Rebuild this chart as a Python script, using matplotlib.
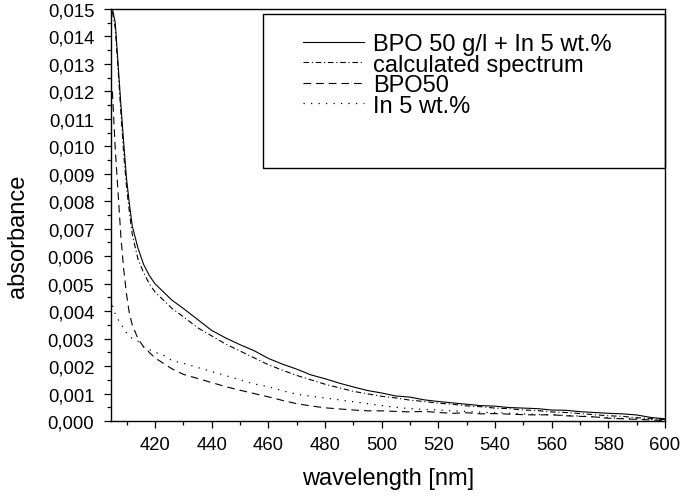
import numpy as np
import matplotlib
matplotlib.use("Agg")
import matplotlib.pyplot as plt
from matplotlib.ticker import MultipleLocator, FuncFormatter
from matplotlib.patches import Rectangle

# ================= data =================
wl = [405, 406, 407, 408, 409, 410, 411, 412, 414, 416, 418, 420, 423, 426,
      430, 435, 440, 445, 450, 455, 460, 465, 470, 475, 480, 485, 490, 495,
      500, 505, 510, 515, 520, 525, 530, 535, 540, 545, 550, 555, 560, 565,
      570, 575, 580, 585, 590, 595, 600]

mix = [0.0150, 0.0145, 0.0130, 0.0115, 0.0101, 0.0088, 0.0079, 0.0071,
       0.0063, 0.0057, 0.0053, 0.0050, 0.0047, 0.0044, 0.0041, 0.0037,
       0.0033, 0.00302, 0.00278, 0.00256, 0.00228, 0.00207, 0.00189,
       0.00168, 0.00154, 0.00138, 0.00124, 0.00111, 0.00102, 0.00091,
       0.00087, 0.00077, 0.00071, 0.00066, 0.00061, 0.00056, 0.00054,
       0.00049, 0.00047, 0.00045, 0.00040, 0.00039, 0.00034, 0.00031,
       0.00028, 0.00026, 0.00022, 0.00013, 0.00008]

calc = [0.0149, 0.0143, 0.0128, 0.0112, 0.0097, 0.0085, 0.0076, 0.0068,
        0.0059, 0.0054, 0.0050, 0.0047, 0.0044, 0.0041, 0.0038, 0.0034,
        0.0031, 0.0028, 0.00255, 0.0023, 0.00205, 0.00185, 0.00166,
        0.00150, 0.00134, 0.00121, 0.00108, 0.00099, 0.00090, 0.00084,
        0.00076, 0.00071, 0.00065, 0.00061, 0.00055, 0.00052, 0.00047,
        0.00045, 0.00040, 0.00038, 0.00033, 0.00031, 0.00027, 0.00023,
        0.00019, 0.00017, 0.00012, 0.00009, 0.00005]

bpo = [0.0120, 0.0099, 0.0083, 0.0067, 0.0055, 0.0046, 0.0039, 0.0035,
       0.0030, 0.0027, 0.0025, 0.0023, 0.0021, 0.0019, 0.0017, 0.00155,
       0.0014, 0.00125, 0.00112, 0.0010, 0.00088, 0.00075, 0.00063,
       0.00055, 0.00048, 0.00044, 0.00040, 0.00037, 0.00037, 0.00035,
       0.00033, 0.00035, 0.00031, 0.00028, 0.00030, 0.00026, 0.00027,
       0.00025, 0.00023, 0.00022, 0.00023, 0.00019, 0.00017, 0.00015,
       0.00010, 0.00008, 0.00006, 0.00004, 0.00002]

ind = [0.0042, 0.0039, 0.0037, 0.0035, 0.0034, 0.0032, 0.0031, 0.0030,
       0.0029, 0.0027, 0.0026, 0.0025, 0.0024, 0.0022, 0.0021, 0.00195,
       0.0018, 0.00165, 0.0015, 0.00135, 0.00125, 0.0011, 0.00098,
       0.0009, 0.00084, 0.00077, 0.0007, 0.00063, 0.00056, 0.0005,
       0.00045, 0.00042, 0.0004, 0.00037, 0.00035, 0.00032, 0.0003,
       0.00028, 0.00026, 0.00024, 0.00022, 0.0002, 0.00018, 0.00015,
       0.00012, 0.0001, 0.00008, 0.00006, 0.00004]

labels = ["BPO 50 g/l + In 5 wt.%", "calculated spectrum", "BPO50", "In 5 wt.%"]

# ================= style =================
plt.rcParams["font.family"] = ["Liberation Sans", "DejaVu Sans"]
plt.rcParams["lines.scale_dashes"] = False

fig = plt.figure(figsize=(6.8, 5.02), dpi=100)
ax = fig.add_axes([111/680, 80/502, 554/680, 412/502])

lw = 0.8
ax.plot(wl, mix, color="black", lw=lw, linestyle="-", label=labels[0])
ax.plot(wl, calc, color="black", lw=lw, linestyle=(0, (4.0, 2.0, 0.8, 2.0)), label=labels[1])
ax.plot(wl, bpo, color="black", lw=lw, linestyle=(0, (5.5, 3.6)), label=labels[2])
ax.plot(wl, ind, color="black", lw=0.9, linestyle=(0, (0.9, 4.5)), label=labels[3])

ax.set_xlim(404.5, 600)
ax.set_ylim(0, 0.015)

ax.xaxis.set_major_locator(MultipleLocator(20))
ax.xaxis.set_minor_locator(MultipleLocator(10))
ax.yaxis.set_major_locator(MultipleLocator(0.001))
ax.yaxis.set_minor_locator(MultipleLocator(0.0005))
ax.yaxis.set_major_formatter(FuncFormatter(lambda v, p: f"{v:.3f}".replace(".", ",")))
ax.xaxis.set_major_formatter(FuncFormatter(lambda v, p: f"{v:.0f}"))

ax.tick_params(axis="both", which="major", direction="out", length=5, width=0.9,
               labelsize=13.3, top=False, right=False)
ax.tick_params(axis="both", which="minor", direction="out", length=2.6, width=0.9,
               top=False, right=False)
ax.tick_params(axis="x", pad=6)
ax.tick_params(axis="y", pad=7)
for s in ax.spines.values():
    s.set_linewidth(1.0)

ax.set_xlabel("wavelength [nm]", fontsize=17, labelpad=10)
ax.set_ylabel("absorbance", fontsize=17)
ax.yaxis.set_label_coords(-0.148, 0.451)

# legend box drawn separately, entries without frame
ax.add_patch(Rectangle((0.2744, 0.614), 1 - 0.2744, 0.9879 - 0.614,
                       transform=ax.transAxes, fill=False, edgecolor="black",
                       lw=1.0, clip_on=False, zorder=5))
leg = ax.legend(loc="upper left", bbox_to_anchor=(303/680, 1 - 34/502),
                bbox_transform=fig.transFigure, frameon=False, fontsize=17,
                handlelength=2.6, handletextpad=0.38, labelspacing=-0.06,
                borderpad=0, borderaxespad=0)

fig.savefig("out.png", dpi=100)
